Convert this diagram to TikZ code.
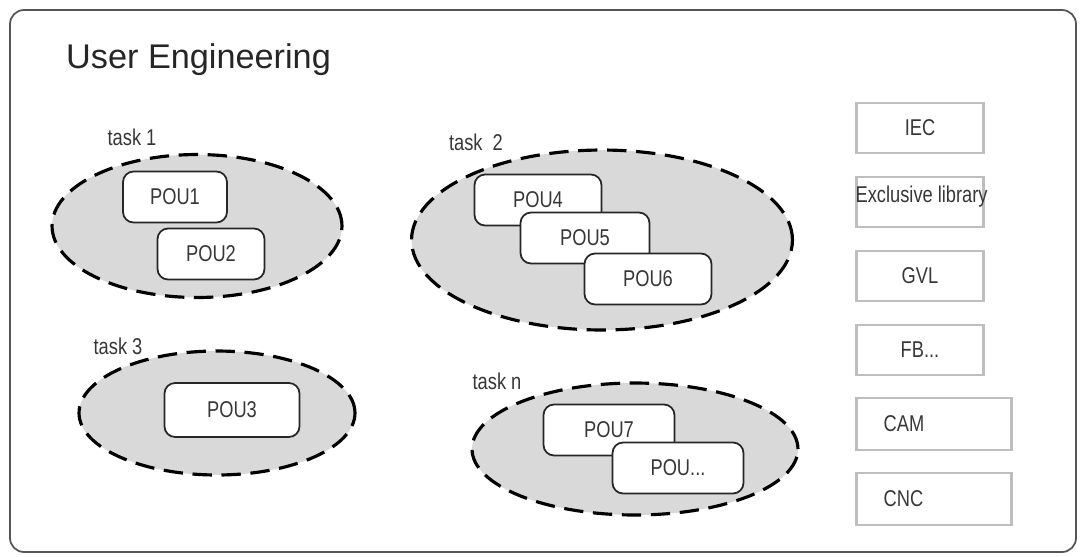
\documentclass[tikz,border=0pt]{standalone}
\usepackage{fontspec}
\setmainfont{Liberation Sans}
\newfontfamily\narrowfont[FakeStretch=0.8]{Liberation Sans}
\usetikzlibrary{shapes.geometric,positioning}
\definecolor{taskgray}{RGB}{217,217,217}
\definecolor{boxgray}{RGB}{190,190,190}
\definecolor{framegray}{RGB}{85,85,85}
\definecolor{txtgray}{RGB}{55,55,55}
\tikzset{
	task/.style={ellipse,draw=black,fill=taskgray,line width=1.8pt,dash pattern=on 11pt off 5.5pt,inner sep=0pt},
	pou/.style={rectangle,rounded corners=6pt,draw=black!85,fill=white,line width=1pt,minimum height=1.02cm,inner sep=0pt,font=\narrowfont\fontsize{13}{15}\selectfont,text=txtgray},
	libbox/.style={rectangle,draw=boxgray,line width=1.4pt,minimum width=2.54cm,minimum height=1cm,inner sep=0pt,font=\narrowfont\fontsize{13}{15}\selectfont,text=txtgray},
	tasklabel/.style={font=\narrowfont\fontsize{13}{15}\selectfont,text=txtgray,inner sep=0pt}
}
\begin{document}
\begin{tikzpicture}[x=0.02cm,y=-0.02cm]
	\useasboundingbox (0,0) rectangle (1080,556);
	\draw[framegray,line width=1pt,rounded corners=8pt] (10,10) rectangle (1076,552);
	\node[anchor=west,font=\fontsize{19.5}{23}\selectfont,text=black!85] (title) at (60,60) {User Engineering};
	
	% task 1
	\node[task,minimum width=5.8cm,minimum height=2.86cm] (task1) at (197,226) {};
	\node[tasklabel] (lbl1) at (132,137) {task 1};
	\node[pou,minimum width=2.08cm] (pou1) at (175,197) {POU1};
	\node[pou,minimum width=2.14cm] (pou2) at (211,254) {POU2};
	
	% task 2
	\node[task,minimum width=7.62cm,minimum height=3.6cm] (task2) at (602,240) {};
	\node[tasklabel] (lbl2) at (476,142) {task\ \ 2};
	\node[pou,minimum width=2.54cm] (pou4) at (538,200) {POU4};
	\node[pou,minimum width=2.58cm] (pou5) at (585,238) {POU5};
	\node[pou,minimum width=2.54cm] (pou6) at (648,279) {POU6};
	
	% task 3
	\node[task,minimum width=5.52cm,minimum height=2.48cm] (task3) at (217,413) {};
	\node[tasklabel] (lbl3) at (118,346) {task 3};
	\node[pou,minimum width=2.7cm,minimum height=1.08cm] (pou3) at (232,410) {POU3};
	
	% task n
	\node[task,minimum width=6.52cm,minimum height=2.64cm] (taskn) at (635,449) {};
	\node[tasklabel] (lbln) at (497,381) {task n};
	\node[pou,minimum width=2.62cm] (pou7) at (609,430) {POU7};
	\node[pou,minimum width=2.62cm] (pouetc) at (678,468) {POU...};
	
	% libraries
	\node[libbox] (iec) at (920,128) {IEC\hspace{12pt}};
	\node[libbox] (exlib) at (920,202) {};
	\node[tasklabel,anchor=west] (exlibtxt) at ([yshift=3pt]exlib.west) {Exclusive library};
	\node[libbox] (gvl) at (920,276) {GVL};
	\node[libbox] (fb) at (920,350) {FB...};
	\node[libbox,minimum width=3.1cm,minimum height=1.04cm] (cam) at (934,424) {};
	\node[tasklabel,anchor=west] (camtxt) at ([xshift=0.56cm]cam.west) {CAM};
	\node[libbox,minimum width=3.1cm,minimum height=1.04cm] (cnc) at (934,499) {};
	\node[tasklabel,anchor=west] (cnctxt) at ([xshift=0.56cm]cnc.west) {CNC};
\end{tikzpicture}
\end{document}
